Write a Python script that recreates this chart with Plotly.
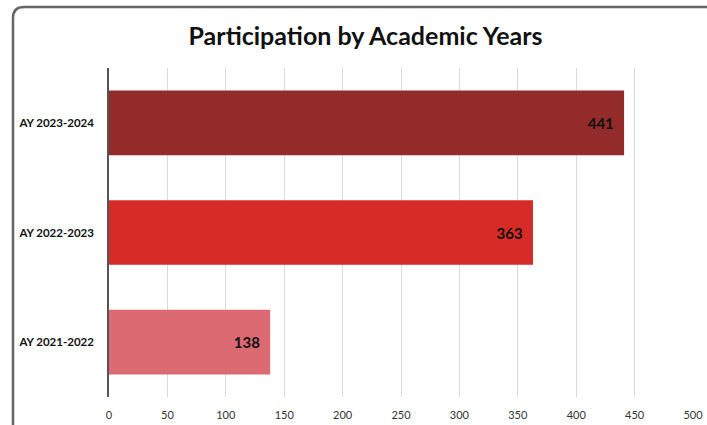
import plotly.graph_objects as go

# Participation counts per academic year (bottom to top)
years = ["AY 2021-2022", "AY 2022-2023", "AY 2023-2024"]
participants = [138, 363, 441]
bar_colors = ["#DC6A73", "#D72B27", "#922B29"]
x_ticks = [0, 50, 100, 150, 200, 250, 300, 350, 400, 450, 500]

W, H = 707, 425
L, R, T, B = 109, 14, 68, 28

fig = go.Figure()
fig.add_trace(go.Bar(
    y=years,
    x=participants,
    orientation="h",
    marker=dict(color=bar_colors, line=dict(width=0)),
    text=[f"{v}  " for v in participants],
    textposition="inside",
    insidetextanchor="end",
    textfont=dict(family="Lato", size=15, color="#111111", weight="bold"),
    cliponaxis=False,
    hoverinfo="skip",
))

# Convert pixel positions into paper coordinates for the rounded frame
pw, ph = W - L - R, H - T - B
def px(x):
    return (x - L) / pw
def py(y):
    return (H - B - y) / ph

fl, ft, rad = 13, 7, 11
fr, fb = W + 20, H + 20
frame = (
    f"M {px(fl)},{py(fb)} L {px(fl)},{py(ft + rad)} "
    f"Q {px(fl)},{py(ft)} {px(fl + rad)},{py(ft)} "
    f"L {px(fr)},{py(ft)}"
)

fig.update_layout(
    width=W, height=H,
    margin=dict(l=L, r=R, t=T, b=B, autoexpand=False),
    paper_bgcolor="white",
    plot_bgcolor="white",
    bargap=0.41,
    showlegend=False,
    title=dict(
        text="<b>Participation by Academic Years</b>",
        x=0.517, xanchor="center",
        y=1 - 36 / H, yanchor="middle",
        font=dict(family="Lato", size=25, color="#111111"),
    ),
    xaxis=dict(
        range=[0, 500],
        tickvals=x_ticks,
        ticktext=[str(t) for t in x_ticks],
        showgrid=True,
        gridcolor="#D9D9D9",
        gridwidth=1,
        zeroline=False,
        showline=False,
        ticks="outside",
        ticklen=0,
        ticklabelstandoff=8,
        tickfont=dict(family="Lato", size=11, color="#333333"),
        automargin=False,
        fixedrange=True,
    ),
    yaxis=dict(
        categoryorder="array",
        categoryarray=years,
        showline=True,
        linecolor="#555555",
        linewidth=1.5,
        showgrid=False,
        ticks="",
        ticklabelstandoff=11,
        tickfont=dict(family="Lato", size=11.5, color="#111111", weight="bold"),
        automargin=False,
        fixedrange=True,
    ),
    shapes=[
        dict(
            type="path", path=frame,
            xref="paper", yref="paper",
            line=dict(color="#666666", width=2.5),
            layer="above",
        )
    ],
)

fig.write_html("out.html")
